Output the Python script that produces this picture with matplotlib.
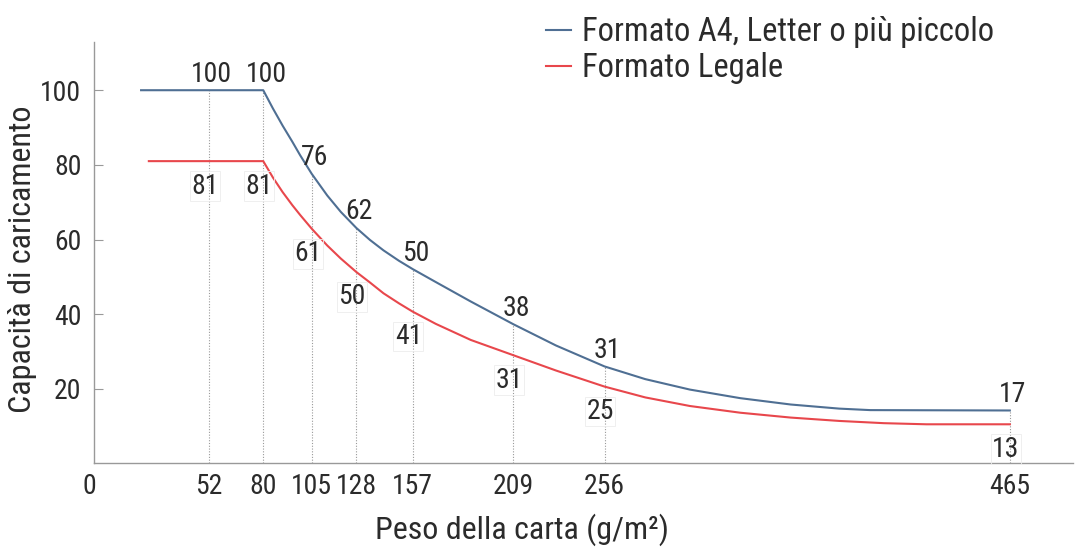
import matplotlib
matplotlib.use("Agg")
import matplotlib.pyplot as plt
from matplotlib import font_manager

# paper weights on the axis (g/m2) and the printed capacities
weights = [52, 80, 105, 128, 157, 209, 256, 465]
a4_labels = [100, 100, 76, 62, 50, 38, 31, 17]
legal_labels = [81, 81, 61, 50, 41, 31, 25, 13]

# curves as drawn in the picture
a4_x = [17, 52, 80, 85, 90, 95, 99, 105, 113, 120, 128, 135, 142, 150, 157, 169, 187,
        209, 231, 256, 277, 300, 326, 352, 377, 393, 465]
a4_y = [100, 100, 100, 95.1, 90.5, 86.2, 82.6, 77.6, 71.8, 67.4, 63.1, 59.9, 57.1,
        54.3, 52.1, 48.6, 43.4, 37.3, 31.6, 26.0, 22.6, 19.8, 17.5, 15.8, 14.7,
        14.3, 14.2]
legal_x = [21, 52, 80, 85, 90, 95, 99, 105, 113, 120, 128, 135, 142, 150, 157, 169,
           187, 209, 231, 256, 277, 300, 326, 352, 377, 400, 422, 465]
legal_y = [81, 81, 81, 76.6, 72.7, 69.2, 66.6, 62.9, 58.4, 54.9, 51.3, 48.5, 45.6,
           42.9, 40.7, 37.4, 33.1, 29.0, 24.9, 20.6, 17.7, 15.4, 13.6, 12.3, 11.4,
           10.8, 10.5, 10.5]

series_names = ["Formato A4, Letter o più piccolo", "Formato Legale"]
x_title = "Peso della carta (g/m²)"
y_title = "Capacità di caricamento"

BLUE = "#4f6f93"
RED = "#e8474c"
TXT = "#2b2b2b"


def pick_font(names):
    have = {f.name for f in font_manager.fontManager.ttflist}
    for n in names:
        if n in have:
            return n
    return "DejaVu Sans"


font = pick_font(["Liberation Sans Narrow", "Roboto Condensed", "Open Sans Condensed",
                  "Liberation Sans"])
plt.rcParams["font.family"] = [font, "DejaVu Sans"]

fig = plt.figure(figsize=(10.75, 5.5), dpi=100)
ax = fig.add_axes([0.0874, 0.1573, 0.9106, 0.7669])

ax.plot(a4_x, a4_y, color=BLUE, lw=1.5, label=series_names[0])
ax.plot(legal_x, legal_y, color=RED, lw=1.5, label=series_names[1])

# dotted guides from the axis up to the A4 curve
tops = [a4_y[a4_x.index(w)] for w in weights]
ax.vlines(weights, 0, tops, colors="#9a9a9a", linestyles=(0, (1, 1.5)), lw=0.8, zorder=1)

tops_legal = [legal_y[legal_x.index(w)] for w in weights]
for w, v, t in zip(weights, a4_labels, tops):
    ax.annotate(str(v), xy=(w, t), xytext=(2, 11.5), textcoords="offset points",
                ha="center", va="center", fontsize=20, color=TXT)
for w, v, t in zip(weights, legal_labels, tops_legal):
    ax.annotate(str(v), xy=(w, t), xytext=(-3, -18), textcoords="offset points",
                ha="center", va="center", fontsize=20, color=TXT,
                bbox=dict(boxstyle="square,pad=0.05", fc="none", ec="#ededed", lw=0.6))

ax.set_xlim(-7.3, 497.5)
ax.set_ylim(0, 113)
ax.set_xticks(weights)
ax.set_yticks([20, 40, 60, 80, 100])
ax.tick_params(axis="x", length=0, pad=7, labelsize=20, labelcolor=TXT)
ax.tick_params(axis="y", direction="in", length=6.5, width=0.8, color="#999999",
               pad=9, labelsize=20, labelcolor=TXT)
ax.annotate("0", xy=(0, 0), xycoords="axes fraction", xytext=(-3, -7),
            textcoords="offset points", ha="center", va="top", fontsize=20, color=TXT)

for s in ["top", "right"]:
    ax.spines[s].set_visible(False)
for s in ["left", "bottom"]:
    ax.spines[s].set_color("#999999")
    ax.spines[s].set_linewidth(1.0)

ax.set_xlabel(x_title, fontsize=23, color=TXT)
ax.set_ylabel(y_title, fontsize=23, color=TXT)
ax.xaxis.set_label_coords(0.437, -0.118)
ax.yaxis.set_label_coords(-0.058, 0.485)

fig.legend(loc="upper left", bbox_to_anchor=(0.493, 1.0), frameon=False,
           fontsize=23.5, handlelength=0.75, handletextpad=0.35, labelspacing=0.12,
           borderpad=0.0, labelcolor=TXT)

fig.savefig("out.png", dpi=100)
